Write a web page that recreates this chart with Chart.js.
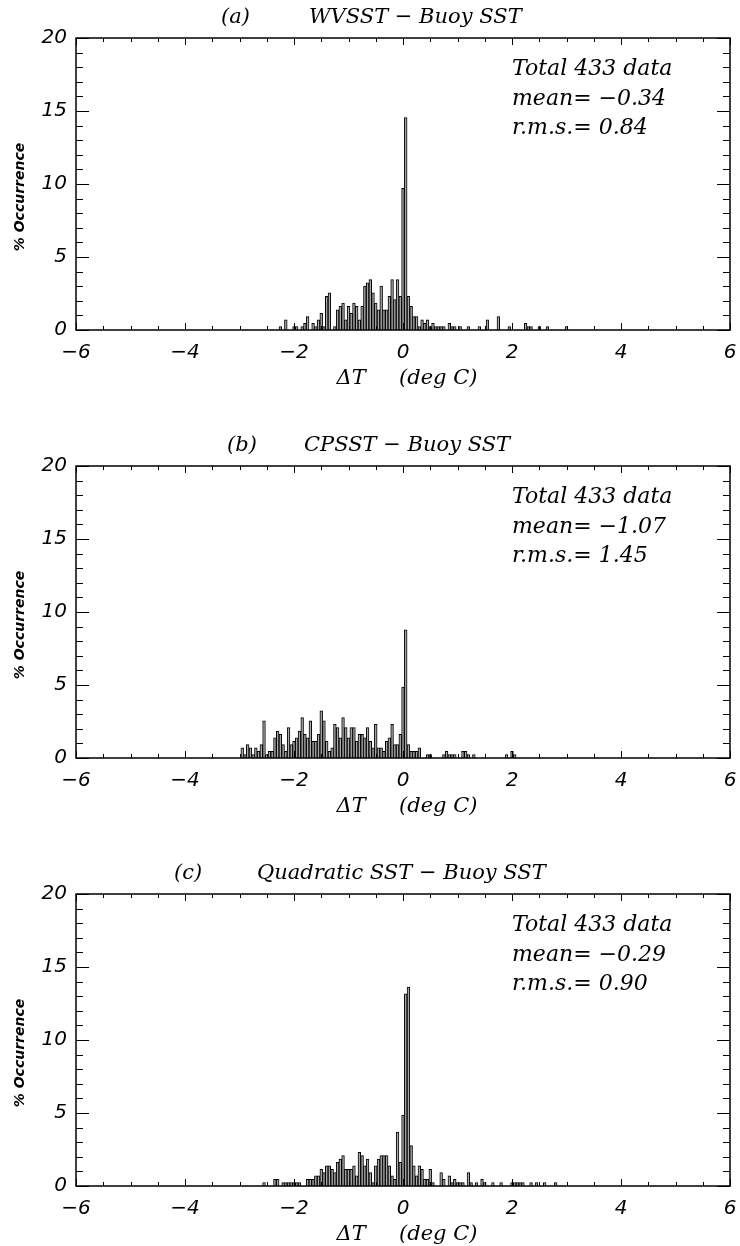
<!DOCTYPE html>
<html>
<head>
<meta charset="utf-8">
<script src="https://cdn.jsdelivr.net/npm/chart.js@4.4.0/dist/chart.umd.min.js"></script>
<style>
    body { margin: 0; background: #fff; width: 740px; height: 1246px; overflow: hidden; }
    .panel { position: absolute; left: 0; }
</style>
</head>
<body>
<canvas id="chartA" class="panel" width="740" height="390" style="top:0px"></canvas>
<canvas id="chartB" class="panel" width="740" height="390" style="top:428px"></canvas>
<canvas id="chartC" class="panel" width="740" height="390" style="top:856px"></canvas>
<script>
// bin centres (deg C) and % occurrence
const binsA = [-2.25, -2.15, -2.00, -1.95, -1.85, -1.80, -1.75, -1.65, -1.60, -1.55,
    -1.50, -1.45, -1.40, -1.35, -1.25, -1.20, -1.15, -1.10, -1.05, -1.00,
    -0.95, -0.90, -0.85, -0.80, -0.75, -0.70, -0.65, -0.60, -0.55, -0.50,
    -0.45, -0.40, -0.35, -0.30, -0.25, -0.20, -0.15, -0.10, -0.05, 0.00,
    0.05, 0.10, 0.15, 0.20, 0.25, 0.30, 0.35, 0.40, 0.45, 0.50,
    0.55, 0.60, 0.65, 0.70, 0.75, 0.85, 0.90, 0.95, 1.05, 1.20,
    1.40, 1.55, 1.75, 1.95, 2.25, 2.30, 2.35, 2.50, 2.65, 3.00];
const pctA = [0.23, 0.69, 0.23, 0.23, 0.23, 0.46, 0.92, 0.46, 0.23, 0.69,
    1.15, 0.23, 2.31, 2.54, 0.23, 1.39, 1.62, 1.85, 0.69, 1.62,
    1.15, 1.85, 1.62, 0.69, 1.62, 3.00, 3.23, 3.46, 2.54, 1.85,
    1.39, 3.00, 1.39, 1.39, 2.31, 3.46, 2.08, 3.46, 2.31, 9.70,
    14.55, 2.31, 1.62, 0.92, 0.92, 0.23, 0.69, 0.46, 0.69, 0.23,
    0.46, 0.23, 0.23, 0.23, 0.23, 0.46, 0.23, 0.23, 0.23, 0.23,
    0.23, 0.69, 0.92, 0.23, 0.46, 0.23, 0.23, 0.23, 0.23, 0.23];

const binsB = [-2.95, -2.90, -2.85, -2.80, -2.75, -2.70, -2.65, -2.60, -2.55, -2.50,
    -2.45, -2.40, -2.35, -2.30, -2.25, -2.20, -2.15, -2.10, -2.05, -2.00,
    -1.95, -1.90, -1.85, -1.80, -1.75, -1.70, -1.65, -1.60, -1.55, -1.50,
    -1.45, -1.40, -1.35, -1.30, -1.25, -1.20, -1.15, -1.10, -1.05, -1.00,
    -0.95, -0.90, -0.85, -0.80, -0.75, -0.70, -0.65, -0.60, -0.55, -0.50,
    -0.45, -0.40, -0.35, -0.30, -0.25, -0.20, -0.15, -0.10, -0.05, 0.00,
    0.05, 0.10, 0.15, 0.20, 0.25, 0.30, 0.45, 0.50, 0.75, 0.80,
    0.85, 0.90, 0.95, 1.10, 1.15, 1.20, 1.30, 1.90, 2.00, 2.05];
const pctB = [0.69, 0.23, 0.92, 0.69, 0.23, 0.69, 0.46, 0.92, 2.54, 0.23,
    0.46, 0.46, 1.39, 1.85, 1.62, 0.92, 0.46, 2.08, 0.92, 1.15,
    1.39, 1.85, 2.77, 1.62, 1.39, 2.54, 1.15, 1.15, 1.62, 3.23,
    2.54, 1.15, 0.46, 0.69, 2.31, 2.08, 1.39, 2.77, 2.08, 1.39,
    2.08, 2.08, 1.15, 1.62, 1.62, 1.39, 2.08, 1.15, 0.69, 2.31,
    0.69, 0.69, 0.46, 1.15, 1.39, 2.31, 0.92, 0.92, 1.62, 4.85,
    8.78, 0.92, 0.46, 0.46, 0.46, 0.69, 0.23, 0.23, 0.23, 0.46,
    0.23, 0.23, 0.23, 0.46, 0.46, 0.23, 0.23, 0.23, 0.46, 0.23];

const binsC = [-2.55, -2.35, -2.30, -2.20, -2.15, -2.10, -2.05, -2.00, -1.95, -1.90,
    -1.75, -1.70, -1.65, -1.60, -1.55, -1.50, -1.45, -1.40, -1.35, -1.30,
    -1.25, -1.20, -1.15, -1.10, -1.05, -1.00, -0.95, -0.90, -0.85, -0.80,
    -0.75, -0.70, -0.65, -0.60, -0.55, -0.50, -0.45, -0.40, -0.35, -0.30,
    -0.25, -0.20, -0.15, -0.10, -0.05, 0.00, 0.05, 0.10, 0.15, 0.20,
    0.25, 0.30, 0.35, 0.40, 0.45, 0.50, 0.55, 0.70, 0.75, 0.85,
    0.90, 0.95, 1.00, 1.05, 1.10, 1.20, 1.25, 1.35, 1.45, 1.50,
    1.65, 1.80, 2.00, 2.05, 2.10, 2.15, 2.20, 2.35, 2.45, 2.60, 2.80];
const pctC = [0.23, 0.46, 0.46, 0.23, 0.23, 0.23, 0.23, 0.23, 0.23, 0.23,
    0.46, 0.46, 0.46, 0.69, 0.69, 1.15, 0.92, 1.39, 1.39, 1.15,
    0.92, 1.62, 1.85, 2.08, 1.15, 1.15, 1.15, 1.39, 0.69, 2.31,
    2.08, 1.39, 1.85, 0.92, 0.23, 1.39, 1.85, 2.08, 2.08, 2.08,
    1.39, 0.69, 0.46, 3.70, 1.62, 4.85, 13.16, 13.63, 2.77, 1.39,
    0.69, 1.39, 1.15, 0.46, 0.46, 1.15, 0.23, 0.92, 0.46, 0.69,
    0.23, 0.46, 0.23, 0.23, 0.23, 0.92, 0.23, 0.23, 0.46, 0.23,
    0.23, 0.23, 0.23, 0.23, 0.23, 0.23, 0.23, 0.23, 0.23, 0.23, 0.23];

const xTicks = [-6, -4, -2, 0, 2, 4, 6];
const yTicks = [0, 5, 10, 15, 20];

const panelTags = ['(a)', '(b)', '(c)'];
const panelNames = ['WVSST \u2212 Buoy SST', 'CPSST \u2212 Buoy SST', 'Quadratic SST \u2212 Buoy SST'];
const totals = [433, 433, 433];
const means = [-0.34, -1.07, -0.29];
const rmsVals = [0.84, 1.45, 0.90];

const serif = '"DejaVu Serif", serif';
const sans = '"DejaVu Sans", sans-serif';

function minus(str) {
    return String(str).replace('-', '\u2212');
}

// box round the plot with inward ticks on all four sides, as in the original
const axisBox = {
    id: 'axisBox',
    afterDatasetsDraw(chart) {
        const { ctx, chartArea: { left, right, top, bottom }, scales: { x, y } } = chart;
        ctx.save();
        ctx.strokeStyle = '#000';
        ctx.lineWidth = 1;
        ctx.beginPath();
        for (let v = -6; v <= 6; v += 0.5) {
            const px = Math.round(x.getPixelForValue(v)) + 0.5;
            const len = v % 2 === 0 ? 7 : 4;
            ctx.moveTo(px, bottom);
            ctx.lineTo(px, bottom - len);
            ctx.moveTo(px, top);
            ctx.lineTo(px, top + len);
        }
        for (let v = 0; v <= 20; v++) {
            const py = Math.round(y.getPixelForValue(v)) + 0.5;
            const len = v % 5 === 0 ? 13 : 7;
            ctx.moveTo(left, py);
            ctx.lineTo(left + len, py);
            ctx.moveTo(right, py);
            ctx.lineTo(right - len, py);
        }
        ctx.stroke();
        ctx.lineWidth = 1.5;
        ctx.strokeRect(left, top, right - left, bottom - top);
        ctx.restore();
    }
};

const panelText = {
    id: 'panelText',
    afterDraw(chart, args, opts) {
        const { ctx, chartArea: { left, right } } = chart;
        const i = opts.index;
        ctx.save();
        ctx.fillStyle = '#000';
        ctx.textBaseline = 'middle';
        ctx.textAlign = 'left';

        ctx.font = 'italic 21px ' + serif;
        ctx.fillText(panelTags[i], opts.tagX, 18);
        ctx.fillText(panelNames[i], opts.nameX, 18);

        ctx.font = 'italic 22px ' + serif;
        ctx.fillText('Total ' + totals[i] + ' data', 512, 69);
        ctx.fillText('mean= ' + minus(means[i].toFixed(2)), 512, 99);
        ctx.fillText('r.m.s.= ' + rmsVals[i].toFixed(2), 512, 128);

        ctx.font = 'italic 21px ' + serif;
        ctx.textAlign = 'center';
        ctx.fillText('\u0394T     (deg C)', (left + right) / 2 + 4, 379);

        ctx.translate(20, 197);
        ctx.rotate(-Math.PI / 2);
        ctx.font = 'italic bold 14px ' + sans;
        ctx.fillText('% Occurrence', 0, 0);
        ctx.restore();
    }
};

function createHistogram(id, bins, pct, index, tagX, nameX) {
    const ctx = document.getElementById(id).getContext('2d');
    const tickFont = { family: sans, size: 20, style: 'italic' };

    return new Chart(ctx, {
        type: 'bar',
        data: {
            datasets: [{
                data: bins.map((b, i) => ({ x: b, y: pct[i] })),
                backgroundColor: '#a8a8a8',
                borderColor: '#000',
                borderWidth: 1,
                categoryPercentage: 1,
                barPercentage: 1
            }]
        },
        options: {
            responsive: false,
            animation: false,
            devicePixelRatio: 1,
            layout: { padding: { top: 38, right: 10, left: 0, bottom: 0 } },
            plugins: {
                legend: { display: false },
                tooltip: { enabled: false },
                panelText: { index, tagX, nameX }
            },
            scales: {
                x: {
                    type: 'linear',
                    min: -6,
                    max: 6,
                    offset: false,
                    afterBuildTicks: (s) => { s.ticks = xTicks.map(v => ({ value: v })); },
                    afterFit: (s) => {
                        s.height = 60;
                        s.paddingLeft = 0;
                        s.paddingRight = 0;
                    },
                    ticks: {
                        font: tickFont,
                        color: '#000',
                        padding: 11,
                        maxRotation: 0,
                        autoSkip: false,
                        callback: (v) => minus(v)
                    },
                    grid: { display: false, drawTicks: false },
                    border: { display: false }
                },
                y: {
                    min: 0,
                    max: 20,
                    afterBuildTicks: (s) => { s.ticks = yTicks.map(v => ({ value: v })); },
                    afterFit: (s) => {
                        s.width = 76;
                        s.paddingTop = 0;
                        s.paddingBottom = 0;
                    },
                    ticks: {
                        font: tickFont,
                        color: '#000',
                        padding: 9,
                        callback: (v) => String(v)
                    },
                    grid: { display: false, drawTicks: false },
                    border: { display: false }
                }
            }
        },
        plugins: [axisBox, panelText]
    });
}

createHistogram('chartA', binsA, pctA, 0, 221, 309);
createHistogram('chartB', binsB, pctB, 1, 227, 304);
createHistogram('chartC', binsC, pctC, 2, 174, 257);
</script>
</body>
</html>
